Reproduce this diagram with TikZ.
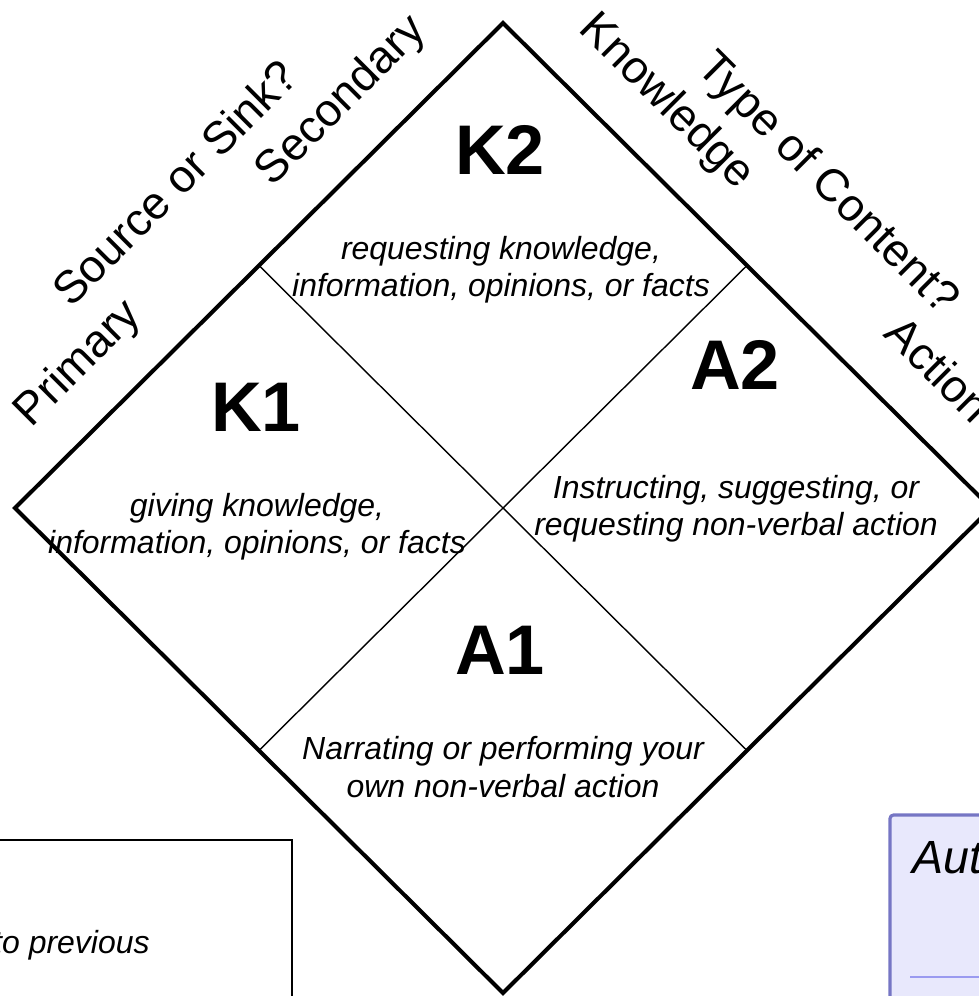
\documentclass[tikz,border=0pt]{standalone}
\usepackage{fontspec}
\setmainfont{Liberation Sans}
\definecolor{notefill}{HTML}{E8E8FC}
\definecolor{noteedge}{HTML}{7676C4}
\definecolor{noterule}{HTML}{9A9AF0}
\begin{document}
\begin{tikzpicture}[x=0.02cm,y=-0.02cm,
  quad/.style={font=\fontsize{40}{48}\selectfont\bfseries},
  desc/.style={font=\fontsize{18.2}{21.3}\selectfont\itshape,align=center},
  axis/.style={font=\fontsize{26}{31}\selectfont,anchor=base},
  rim/.style={line width=2.3pt,line join=miter},
  split/.style={line width=0.8pt}]

\useasboundingbox (0,0) rectangle (979,996);
\clip (0,0) rectangle (979,996);

\coordinate (T) at (503,23);
\coordinate (L) at (15,508);
\coordinate (B) at (503,993);
\coordinate (R) at (991,508);
\coordinate (TL) at (259,265.5);
\coordinate (TR) at (747,265.5);
\coordinate (BL) at (259,750.5);
\coordinate (BR) at (747,750.5);

\draw[rim] (T) -- (R) -- (B) -- (L) -- cycle;
\draw[split] (TL) -- (BR);
\draw[split] (TR) -- (BL);

\node[quad] (k2) at (500,150) {K2};
\node[desc] (k2d) at (501,270) {requesting knowledge,\\information, opinions, or facts};
\node[quad] (k1) at (256,407) {K1};
\node[desc] (k1d) at (257,527) {giving knowledge,\\information, opinions, or facts};
\node[quad] (a2) at (735,365) {A2};
\node[desc] (a2d) at (736,509) {Instructing, suggesting, or\\requesting non-verbal action};
\node[quad] (a1) at (500,650) {A1};
\node[desc] (a1d) at (503,767) {Narrating or performing your\\own non-verbal action};

\node[axis,rotate=45] (src) at (186,194) {Source or Sink?};
\node[axis,rotate=45] (prim) at (87.5,372.5) {Primary};
\node[axis,rotate=45] (sec) at (350,110) {Secondary};
\node[axis,rotate=-45] (type) at (818,193) {Type of Content?};
\node[axis,rotate=-45] (know) at (657.5,110.5) {Knowledge};
\node[axis,rotate=-45] (act) at (927.5,380.5) {Action};

\draw[line width=0.8pt] (-10,840) rectangle (292,1010);
\node[font=\fontsize{18.2}{21.3}\selectfont\itshape,anchor=base east,inner sep=0pt] (prev) at (150,953) {to previous};

\draw[draw=noteedge,fill=notefill,line width=1.8pt,rounded corners=2pt] (890,815) rectangle (1010,1010);
\node[font=\fontsize{26.5}{32}\selectfont\itshape,anchor=base west,inner sep=0pt] (aut) at (912,873) {Aut};
\draw[noterule,line width=0.8pt] (910,977) -- (990,977);

\end{tikzpicture}
\end{document}
